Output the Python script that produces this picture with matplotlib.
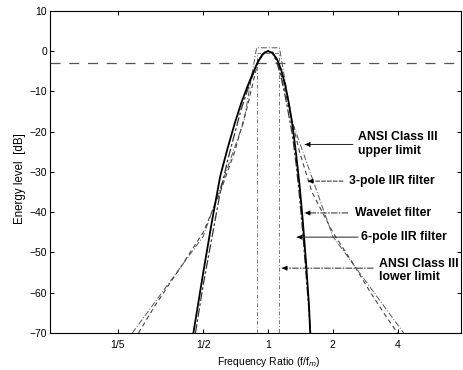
import matplotlib
matplotlib.use('Agg')
import matplotlib.pyplot as plt

plt.rcParams['font.family'] = ['Liberation Sans', 'DejaVu Sans']

# ---- data ----
x_ticks = [0.2, 0.5, 1, 2, 4]
x_tick_labels = ['1/5', '1/2', '1', '2', '4']
y_ticks = [10, 0, -10, -20, -30, -40, -50, -60, -70]

ref_level = -3  # -3 dB reference line

wavelet_x = [0.45, 0.5, 0.55, 0.6, 0.65, 0.7, 0.75, 0.8, 0.85, 0.9, 0.95, 1.0,
             1.05, 1.1, 1.15, 1.2, 1.25, 1.3, 1.35, 1.4, 1.45, 1.5, 1.55, 1.57]
wavelet_y = [-70, -55, -42, -31, -24, -18, -13, -9, -5.5, -2.5, -0.7, 0,
             -0.5, -2, -4.6, -8.3, -13, -18.5, -25.5, -33, -42, -52, -63, -70]

iir3_x = [0.25, 0.3, 0.4, 0.5, 0.6, 0.7, 0.8, 0.85, 0.9, 0.95, 1.0,
          1.053, 1.111, 1.176, 1.25, 1.4, 1.6, 2.0, 2.5, 3.0, 3.5, 4.0]
iir3_y = [-70, -63, -53, -45, -35, -25, -14, -8, -2.5, -0.3, 0,
          -0.3, -2.5, -8, -14, -25, -35, -45, -53, -60, -65.5, -70]

iir6_x = [0.46, 0.5, 0.55, 0.6, 0.65, 0.7, 0.75, 0.8, 0.85, 0.9, 0.95, 1.0,
          1.05, 1.1, 1.15, 1.2, 1.25, 1.3, 1.35, 1.4, 1.45, 1.5, 1.58]
iir6_y = [-70, -58, -46, -35, -27, -20.5, -14.5, -10, -6, -2.8, -0.6, 0,
          -0.6, -2.8, -6.5, -11, -16, -21, -28, -36, -45, -55, -70]

ansi_up_x = [0.234, 0.5, 0.772, 0.885, 1.13, 1.295, 2.0, 4.27]
ansi_up_y = [-70, -46, -17.5, 0.8, 0.8, -17.5, -46, -70]

ansi_lo_x = [0.891, 0.891, 1.122, 1.122]
ansi_lo_y = [-70, -0.5, -0.5, -70]

labels = ['ANSI Class III\nupper limit', '3-pole IIR filter', 'Wavelet filter',
          '6-pole IIR filter', 'ANSI Class III\nlower limit']

# ---- figure ----
fig = plt.figure(figsize=(4.63, 3.70), dpi=100)
ax = fig.add_axes([0.108, 0.100, 0.888, 0.871])

ax.axhline(ref_level, color='#555555', lw=0.9, ls=(0, (8, 7)))
ax.plot(ansi_up_x, ansi_up_y, color='#555555', lw=0.7, ls=(0, (6, 2, 1, 2)))
ax.plot(ansi_lo_x, ansi_lo_y, color='#777777', lw=0.7, ls=(0, (4, 2, 1, 2)))
ax.plot(iir3_x, iir3_y, color='#444444', lw=0.8, ls=(0, (4, 3)))
ax.plot(iir6_x, iir6_y, color='#333333', lw=0.9, ls=(0, (7, 2, 2, 2)))
ax.plot(wavelet_x, wavelet_y, color='black', lw=1.3)

ax.set_xscale('log')
ax.set_xlim(0.097, 7.9)
ax.set_ylim(-70, 10)
ax.set_xticks(x_ticks)
ax.set_xticklabels(x_tick_labels)
ax.minorticks_off()
ax.set_yticks(y_ticks)
ax.tick_params(direction='in', length=3, width=0.7, top=True, right=True,
               labelsize=7.5)
ax.tick_params(axis='x', pad=5)
ax.tick_params(axis='y', pad=2)
for s in ax.spines.values():
    s.set_linewidth(0.8)

ax.set_xlabel('Frequency Ratio (f/f$_m$)', fontsize=7.5)
ax.xaxis.set_label_coords(0.532, -0.068)
ax.set_ylabel('Energy level  [dB]', fontsize=8.3)
ax.yaxis.set_label_coords(-0.058, 0.48)

# annotations: (arrow head, arrow tail, text anchor, shaft style)
ann = [
    ((1.486, -23.2), (2.48, -23.2), (2.62, -23.0), '-'),
    ((1.534, -32.3), (2.23, -32.3), (2.38, -32.3), (0, (4, 2))),
    ((1.486, -40.2), (2.35, -40.2), (2.54, -40.2), (0, (6, 2, 1, 2))),
    ((1.364, -46.2), (2.62, -46.2), (2.70, -46.2), '-'),
    ((1.162, -53.9), (3.08, -53.9), (3.28, -54.5), (0, (6, 2, 1, 2))),
]
for lab, (head, tail, txt, sty) in zip(labels, ann):
    ax.annotate('', xy=head, xytext=tail,
                arrowprops=dict(arrowstyle='-', color='#222222', lw=0.7,
                                linestyle=sty, shrinkA=0, shrinkB=0))
    neck = (head[0] * 1.045, head[1])
    ax.annotate('', xy=head, xytext=neck,
                arrowprops=dict(arrowstyle='-|>', color='black', lw=0.7,
                                mutation_scale=7, shrinkA=0, shrinkB=0))
    ax.text(txt[0], txt[1], lab, fontsize=8.8, fontweight='bold',
            ha='left', va='center', linespacing=1.2)

fig.savefig('out.png', dpi=100)
